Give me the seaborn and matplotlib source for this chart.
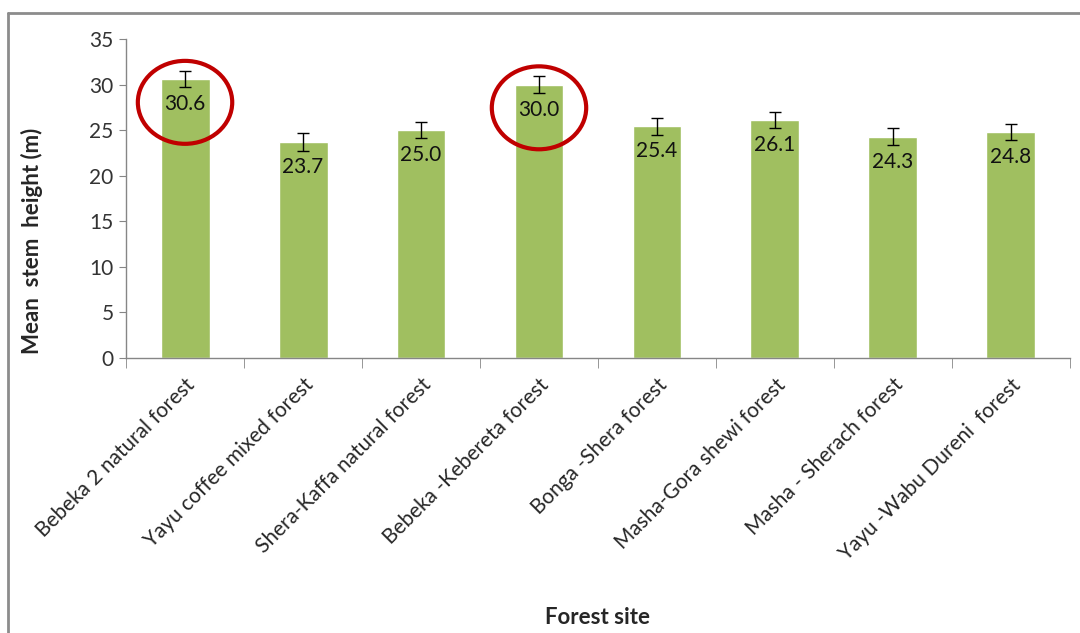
import matplotlib
matplotlib.use("Agg")
import matplotlib.pyplot as plt
from matplotlib.patches import Ellipse
from matplotlib.lines import Line2D
from matplotlib.ticker import FixedLocator
import pandas as pd
import seaborn as sns

sites = [
    "Bebeka 2 natural forest",
    "Yayu coffee mixed forest",
    "Shera-Kaffa natural forest",
    "Bebeka -Kebereta forest",
    "Bonga -Shera forest",
    "Masha-Gora shewi forest",
    "Masha - Sherach forest",
    "Yayu -Wabu Dureni  forest",
]
heights = [30.6, 23.7, 25.0, 30.0, 25.4, 26.1, 24.3, 24.8]
errors = [0.9, 0.95, 0.9, 0.9, 0.9, 0.9, 0.9, 0.9]
circled = [0, 3]

df = pd.DataFrame({"site": sites, "height": heights, "err": errors})

sns.set_style("white")
plt.rcParams["font.family"] = ["Lato", "DejaVu Sans"]

fig = plt.figure(figsize=(10.8, 6.33), dpi=100)
ax = fig.add_axes([0.1167, 0.4344, 0.874, 0.504])

sns.barplot(data=df, x="site", y="height", color="#A0BF60", saturation=1,
            width=0.415, ax=ax)
ax.errorbar(range(len(df)), df["height"], yerr=df["err"], fmt="none",
            ecolor="black", elinewidth=1, capsize=4, capthick=1)

for i, v in enumerate(heights):
    ax.annotate(f"{v:.1f}", (i, v), xytext=(0, -18), textcoords="offset points",
                ha="center", va="center", fontsize=15, color="#111111")

for i in circled:
    ax.add_patch(Ellipse((i, heights[i] - 2.55), 0.8, 9.1, fill=False,
                         edgecolor="#C00000", linewidth=3, clip_on=False))

ax.set_xlim(-0.5, len(sites) - 0.5)
ax.set_ylim(0, 35)
ax.set_yticks(range(0, 36, 5))
ax.tick_params(axis="y", labelsize=15, length=5, color="#868686", left=True,
               labelcolor="#333333", pad=4)
ax.set_xticks(range(len(sites)))
ax.set_xticklabels(sites, rotation=45, ha="right", rotation_mode="anchor",
                   fontsize=15)
ax.tick_params(axis="x", which="major", length=0, pad=12)
ax.xaxis.set_minor_locator(FixedLocator([i - 0.5 for i in range(len(sites) + 1)]))
ax.tick_params(axis="x", which="minor", length=7, color="#868686", bottom=True)

for side in ["top", "right"]:
    ax.spines[side].set_visible(False)
for side in ["left", "bottom"]:
    ax.spines[side].set_color("#868686")
    ax.spines[side].set_linewidth(1)

ax.set_xlabel("Forest site", fontsize=16, fontweight="bold")
ax.xaxis.set_label_coords(0.5, -249 / 319)
ax.set_ylabel("Mean  stem  height (m)", fontsize=16, fontweight="bold")
ax.yaxis.set_label_coords(-0.088, 0.367)

# outer chart frame (only top and left edges are visible in the crop)
fig.add_artist(Line2D([8 / 1080, 1.0], [1 - 13 / 633] * 2, color="#8c8c8c",
                      linewidth=2, transform=fig.transFigure))
fig.add_artist(Line2D([8 / 1080] * 2, [0, 1 - 13 / 633], color="#8c8c8c",
                      linewidth=2, transform=fig.transFigure))

fig.savefig("out.png", dpi=100)
